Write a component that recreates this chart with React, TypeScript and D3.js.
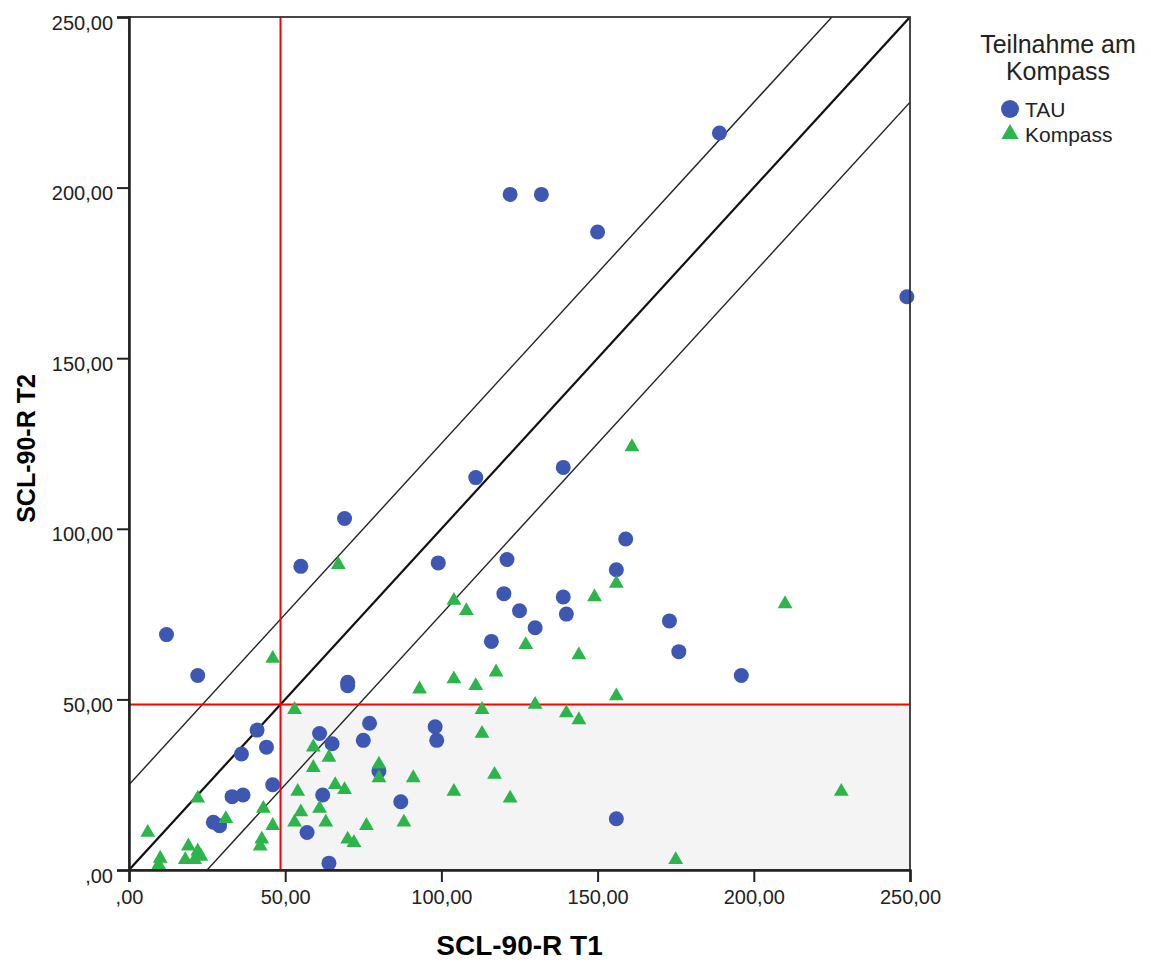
import {useEffect, useRef} from "react";
import * as d3 from "d3";

// SCL-90-R Gesamtwerte, T1 gegen T2, getrennt nach Gruppe
const tauT1 = [
  12, 22, 55, 69, 70, 70, 41, 44, 36, 46, 33, 36.5, 27, 29, 61, 65, 77, 75, 62, 57, 64, 80, 87, 98,
  98.5, 99, 121, 156, 120, 125, 139, 140, 130, 116, 156, 159, 173, 176, 196, 122, 132, 150, 189, 111,
  139, 249,
];
const tauT2 = [
  69, 57, 89, 103, 55, 54, 41, 36, 34, 25, 21.5, 22, 14, 13, 40, 37, 43, 38, 22, 11, 2, 29, 20, 42,
  38, 90, 91, 88, 81, 76, 80, 75, 71, 67, 15, 97, 73, 64, 57, 198, 198, 187, 216, 115, 118, 168,
];

const kompassT1 = [
  93, 53, 59, 64, 59, 80, 80, 91, 66, 69, 54, 61, 55, 53, 63, 76, 88, 70, 72, 22, 43, 31, 46, 42.5,
  42, 6, 19, 10, 9.5, 18, 22, 23, 21, 67, 104, 108, 149, 156, 127, 144, 117.5, 104, 111, 156, 113,
  130, 140, 144, 113, 117, 104, 122, 161, 210, 228, 175, 46,
];
const kompassT2 = [
  53, 47, 36, 33, 30, 31, 27, 27, 25, 23.5, 23, 18, 17, 14, 14, 13, 14, 9, 8, 21, 18, 15, 13, 9, 7,
  11, 7, 3.4, 1.5, 3, 5.5, 4, 3, 89.5, 79, 76, 80, 84, 66, 63, 58, 56, 54, 51, 47, 48.5, 46, 44, 40,
  28, 23, 21, 124, 78, 23, 3, 62,
];

const tickValues = [0, 50, 100, 150, 200, 250];
const cutoff = 48.5; // Grenzwert (rote Linien)
const bandOffsets = [-25, 25]; // Linien parallel zur Diagonale
const legendTitle = ["Teilnahme am", "Kompass"];
const groups = ["TAU", "Kompass"];

const BLUE = "#3d57b3";
const GREEN = "#2bb54a";
const FONT = "'Liberation Sans', Arial, sans-serif";

export default function App() {
  const svgRef = useRef<SVGSVGElement>(null);

  useEffect(() => {
    if (!svgRef.current) return;

    const width = 1151;
    const height = 965;
    const left = 129;
    const right = 910;
    const top = 17;
    const bottom = 870;

    const svg = d3.select(svgRef.current);
    svg.selectAll("*").remove();
    svg.attr("width", width).attr("height", height).style("background", "white");

    const x = d3.scaleLinear().domain([0, 250]).range([left, right]);
    const y = d3.scaleLinear().domain([0, 250]).range([bottom, top]);

    const fmt = (d: number) => (d === 0 ? ",00" : d.toFixed(2).replace(".", ","));

    // grauer Bereich unten rechts
    svg
      .append("rect")
      .attr("x", x(cutoff))
      .attr("y", y(cutoff))
      .attr("width", x(250) - x(cutoff))
      .attr("height", y(0) - y(cutoff))
      .style("fill", "#f4f4f4");

    const plot = svg.append("g");
    // clip für die Diagonalen
    svg
      .append("defs")
      .append("clipPath")
      .attr("id", "plotclip")
      .append("rect")
      .attr("x", left)
      .attr("y", top)
      .attr("width", right - left)
      .attr("height", bottom - top);

    const lines = plot.append("g").attr("clip-path", "url(#plotclip)");
    const diag = d3
      .line<number>()
      .x((d) => x(d))
      .y((d) => y(d));
    lines
      .append("path")
      .attr("d", diag([0, 250]))
      .style("stroke", "#111")
      .style("stroke-width", 2.2)
      .style("fill", "none");

    bandOffsets.forEach((off) => {
      const l = d3
        .line<number>()
        .x((d) => x(d))
        .y((d) => y(d + off));
      lines
        .append("path")
        .attr("d", l([-30, 280]))
        .style("stroke", "#222")
        .style("stroke-width", 1.4)
        .style("fill", "none");
    });

    // rote Grenzlinien
    plot
      .append("line")
      .attr("x1", x(cutoff))
      .attr("x2", x(cutoff))
      .attr("y1", y(0))
      .attr("y2", y(250))
      .style("stroke", "#ff0000")
      .style("stroke-width", 2);
    plot
      .append("line")
      .attr("x1", x(0))
      .attr("x2", x(250))
      .attr("y1", y(cutoff))
      .attr("y2", y(cutoff))
      .style("stroke", "#ff0000")
      .style("stroke-width", 2);

    // Punkte
    const tau = tauT1.map((v, i) => [v, tauT2[i]]);
    const komp = kompassT1.map((v, i) => [v, kompassT2[i]]);

    plot
      .selectAll(".tau")
      .data(tau)
      .enter()
      .append("circle")
      .attr("cx", (d) => x(d[0]))
      .attr("cy", (d) => y(d[1]))
      .attr("r", 7.5)
      .style("fill", BLUE);

    const tri = d3.symbol().type(d3.symbolTriangle).size(95);
    plot
      .selectAll(".komp")
      .data(komp)
      .enter()
      .append("path")
      .attr("d", tri)
      .attr("transform", (d) => `translate(${x(d[0])},${y(d[1])})`)
      .style("fill", GREEN);

    // Rahmen
    svg
      .append("rect")
      .attr("x", left)
      .attr("y", top)
      .attr("width", right - left)
      .attr("height", bottom - top)
      .style("fill", "none")
      .style("stroke", "#333")
      .style("stroke-width", 1.8);

    // Achsen
    const xAxis = svg
      .append("g")
      .attr("transform", `translate(0,${bottom})`)
      .call(d3.axisBottom(x).tickValues(tickValues).tickFormat(fmt).tickSize(12).tickPadding(8));
    const yAxis = svg
      .append("g")
      .attr("transform", `translate(${left},0)`)
      .call(d3.axisLeft(y).tickValues(tickValues).tickFormat(fmt).tickSize(12).tickPadding(4));

    [xAxis, yAxis].forEach((a) => {
      a.select(".domain").style("stroke", "#222").style("stroke-width", 2.5);
      a.selectAll(".tick line").style("stroke", "#222").style("stroke-width", 2);
      a.selectAll(".tick text")
        .style("font-family", FONT)
        .style("font-size", "20px")
        .style("fill", "#222");
    });
    yAxis.selectAll(".tick text").attr("dy", "0.6em");

    // Achsentitel
    svg
      .append("text")
      .attr("x", (left + right) / 2)
      .attr("y", 955)
      .attr("text-anchor", "middle")
      .style("font-family", FONT)
      .style("font-size", "28px")
      .style("font-weight", "bold")
      .text("SCL-90-R T1");
    svg
      .append("text")
      .attr("transform", `translate(35,${(top + bottom) / 2 + 5}) rotate(-90)`)
      .attr("text-anchor", "middle")
      .style("font-family", FONT)
      .style("font-size", "25px")
      .style("font-weight", "bold")
      .text("SCL-90-R T2");

    // Legende
    const legend = svg.append("g");
    legendTitle.forEach((t, i) => {
      legend
        .append("text")
        .attr("x", 1058)
        .attr("y", 53 + i * 27)
        .attr("text-anchor", "middle")
        .style("font-family", FONT)
        .style("font-size", "25px")
        .style("fill", "#222")
        .text(t);
    });
    groups.forEach((g, i) => {
      const cy = 109 + i * 25;
      if (i === 0) {
        legend.append("circle").attr("cx", 1010).attr("cy", cy).attr("r", 9).style("fill", BLUE);
      } else {
        legend
          .append("path")
          .attr("d", d3.symbol().type(d3.symbolTriangle).size(130)())
          .attr("transform", `translate(1010,${cy})`)
          .style("fill", GREEN);
      }
      legend
        .append("text")
        .attr("x", 1025)
        .attr("y", cy + 8)
        .style("font-family", FONT)
        .style("font-size", "21px")
        .style("fill", "#222")
        .text(g);
    });
  }, []);

  return (
    <div style={{position: "absolute", left: 0, top: 0}}>
      <svg ref={svgRef} style={{display: "block"}}></svg>
    </div>
  );
}
